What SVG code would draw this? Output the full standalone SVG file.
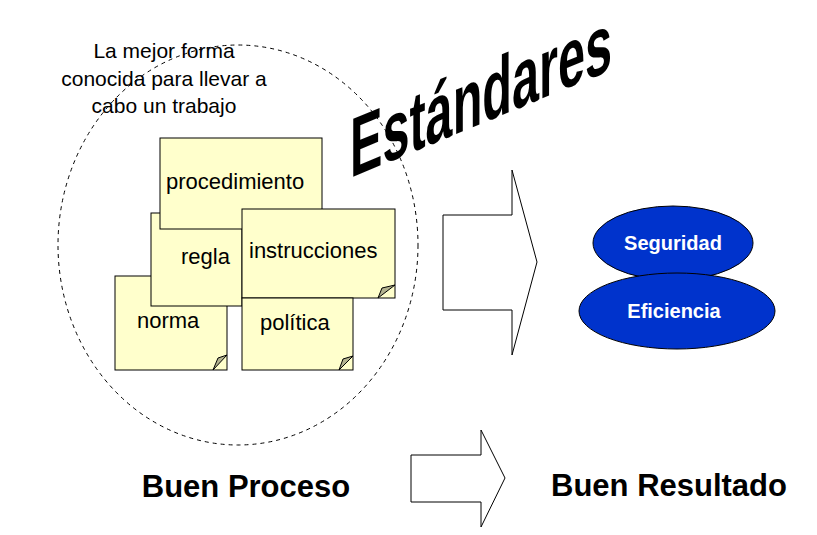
<svg xmlns="http://www.w3.org/2000/svg" width="817" height="535" viewBox="0 0 817 535">
<style>
text{font-family:"Liberation Sans",Arial,sans-serif;fill:#000}
.note{fill:#ffffcc;stroke:#000;stroke-width:1}
.fold{fill:#b3b38f;stroke:#000;stroke-width:1}
.nt{font-size:22px}
.arrow{fill:#fff;stroke:#000;stroke-width:1}
.oval{fill:#0033cc;stroke:#000;stroke-width:1}
.ot{font-size:20px;font-weight:bold;fill:#fff;text-anchor:middle}
.big{font-size:31px;font-weight:bold;text-anchor:middle}
</style>
<rect width="817" height="535" fill="#fff"/>
<g id="boundary">
<ellipse cx="238" cy="245" rx="180" ry="200" fill="none" stroke="#000" stroke-width="1" stroke-dasharray="4,4"/>
<text x="164" y="58" font-size="21" text-anchor="middle">La mejor forma</text>
<text x="164" y="86" font-size="21" text-anchor="middle">conocida para llevar a</text>
<text x="164" y="113" font-size="21" text-anchor="middle">cabo un trabajo</text>
</g>
<g id="norma"><rect class="note" x="115" y="276" width="112" height="94"/><path class="fold" d="M213,370 L218,358 L227,355 Z"/><text class="nt" x="137" y="328">norma</text></g>
<g id="regla"><rect class="note" x="151" y="213" width="91" height="93"/><text class="nt" x="181" y="264">regla</text></g>
<g id="procedimiento"><rect class="note" x="160" y="138" width="162" height="91"/><path class="fold" d="M302,229 L307,218 L322,214 Z"/><text class="nt" x="166" y="189">procedimiento</text></g>
<g id="instrucciones"><rect class="note" x="242" y="209" width="153" height="89"/><path class="fold" d="M378,298 L382,288 L395,285 Z"/><text class="nt" x="249" y="258">instrucciones</text></g>
<g id="politica"><rect class="note" x="242" y="298" width="111" height="72"/><path class="fold" d="M339,370 L343,359 L353,356 Z"/><text class="nt" x="260" y="330">política</text></g>
<g id="title"><text transform="translate(350,178) skewY(-22.5)" font-size="84" font-weight="bold" textLength="262" lengthAdjust="spacingAndGlyphs">Estándares</text></g>
<g id="connectors">
<path class="arrow" d="M443,215 L512,215 L512,170 L537,262 L512,355 L512,310 L443,310 Z"/>
<path class="arrow" d="M411,455 L481,455 L481,430 L505,478 L481,527 L481,502 L411,502 Z"/>
</g>
<g id="seguridad"><ellipse class="oval" cx="673" cy="243" rx="80" ry="37"/><text class="ot" x="673" y="250">Seguridad</text></g>
<g id="eficiencia"><ellipse class="oval" cx="677" cy="311" rx="98" ry="38"/><text class="ot" x="674" y="318">Eficiencia</text></g>
<g id="buen-proceso"><text class="big" x="246" y="497">Buen Proceso</text></g>
<g id="buen-resultado"><text class="big" x="669" y="496">Buen Resultado</text></g>
</svg>
